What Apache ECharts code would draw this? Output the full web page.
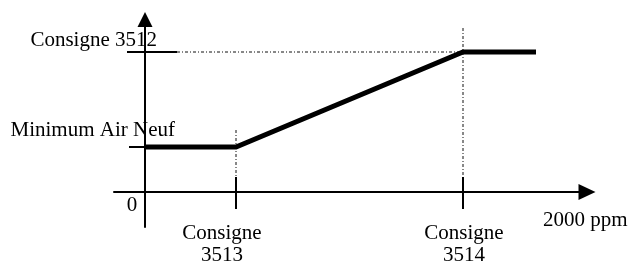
<!DOCTYPE html>
<html lang="fr">
<head>
    <meta charset="utf-8">
    <title>Minimum Air Neuf / Consignes</title>
    <style>
        html, body { margin: 0; padding: 0; background: #fff; }
        #chart { width: 631px; height: 264px; }
    </style>
</head>
<body>
    <div id="chart"></div>
    <script src="https://cdn.jsdelivr.net/npm/echarts@6/dist/echarts.min.js"></script>
    <script>
        // schematic units (no real scale on the original drawing)
        var lineX = [0, 91, 318, 391];
        var lineY = [45, 45, 140, 140];

        var yLevelNames = ["Minimum Air Neuf", "Consigne 3512"];
        var yLevelValues = [45, 140];

        var xMarkNames = ["Consigne\n3513", "Consigne\n3514"];
        var xMarkValues = [91, 318];
        var xMarkLevels = [45, 140];

        var originLabel = "0";
        var xAxisLabel = "2000 ppm";

        // layout bits (pixels)
        var FONT = '21px "Liberation Serif", "Times New Roman", serif';
        var yTick = [[18, 32], [16, 0]];            // [left, right] per level
        var yLabelOff = [[30, -17], [12, -12]];      // right edge / middle offset
        var xTick = [15, 17];                        // [above, below]
        var xLabelDx = [-14, 1];
        var guideOver = [17, 24];                    // dotted line above the curve

        var chart = echarts.init(document.getElementById("chart"), null, { renderer: "canvas" });

        function renderNotes(params, api) {
            var o = api.coord([0, 0]);
            var kids = [];
            var guide = { stroke: "#111", lineWidth: 1, lineDash: [3, 2, 1, 2] };

            // horizontal dotted guide for the top level, up to the last mark
            var top = api.coord([xMarkValues[1], yLevelValues[1]]);
            kids.push({
                type: "line",
                shape: { x1: o[0] + yTick[0][1], y1: top[1], x2: top[0], y2: top[1] },
                style: guide
            });
            // vertical dotted guides
            xMarkValues.forEach(function (v, i) {
                var p = api.coord([v, xMarkLevels[i]]);
                kids.push({
                    type: "line",
                    shape: { x1: p[0], y1: p[1] - guideOver[i], x2: p[0], y2: o[1] - xTick[0] },
                    style: guide
                });
            });
            // y ticks + labels
            yLevelValues.forEach(function (v, i) {
                var p = api.coord([0, v]);
                var t = i === 1 ? yTick[0] : yTick[1];
                kids.push({
                    type: "line",
                    shape: { x1: p[0] - t[0], y1: p[1], x2: p[0] + t[1], y2: p[1] },
                    style: { stroke: "#000", lineWidth: 2 }
                });
                kids.push({
                    type: "text",
                    style: {
                        text: yLevelNames[i], x: p[0] + yLabelOff[i][0], y: p[1] + yLabelOff[i][1],
                        font: FONT, fill: "#000", align: "right", verticalAlign: "middle"
                    }
                });
            });
            // x ticks + labels
            xMarkValues.forEach(function (v, i) {
                var p = api.coord([v, 0]);
                kids.push({
                    type: "line",
                    shape: { x1: p[0], y1: p[1] - xTick[0], x2: p[0], y2: p[1] + xTick[1] },
                    style: { stroke: "#000", lineWidth: 2 }
                });
                kids.push({
                    type: "text",
                    style: {
                        text: xMarkNames[i], x: p[0] + xLabelDx[i], y: p[1] + 30,
                        font: FONT, lineHeight: 22, fill: "#000", align: "center", verticalAlign: "top"
                    }
                });
            });
            kids.push({
                type: "text",
                style: { text: originLabel, x: o[0] - 13, y: o[1] + 13, font: FONT, fill: "#000", align: "center", verticalAlign: "middle" }
            });
            var end = api.coord([442, 0]);
            kids.push({
                type: "text",
                style: { text: xAxisLabel, x: end[0] - 44, y: end[1] + 28, font: FONT, fill: "#000", align: "left", verticalAlign: "middle" }
            });
            return { type: "group", children: kids };
        }

        chart.setOption({
            animation: false,
            backgroundColor: "#fff",
            grid: { left: 114, right: 44, top: 19.5, bottom: 37, containLabel: false },
            xAxis: {
                type: "value", min: -31, max: 442,
                axisLine: { show: true, onZero: true, symbol: ["none", "triangle"], symbolSize: [16, 17], lineStyle: { color: "#000", width: 2 } },
                axisTick: { show: false }, axisLabel: { show: false }, splitLine: { show: false }
            },
            yAxis: {
                type: "value", min: -35, max: 172.5,
                axisLine: { show: true, onZero: true, symbol: ["none", "triangle"], symbolSize: [15, 15], lineStyle: { color: "#000", width: 2 } },
                axisTick: { show: false }, axisLabel: { show: false }, splitLine: { show: false }
            },
            series: [
                {
                    type: "custom",
                    renderItem: renderNotes,
                    data: [0],
                    silent: true,
                    z: 1
                },
                {
                    type: "line",
                    data: lineX.map(function (x, i) { return [x, lineY[i]]; }),
                    showSymbol: false,
                    symbol: "none",
                    lineStyle: { color: "#000", width: 5, cap: "butt", join: "miter" },
                    z: 3
                }
            ]
        });
    </script>
</body>
</html>
